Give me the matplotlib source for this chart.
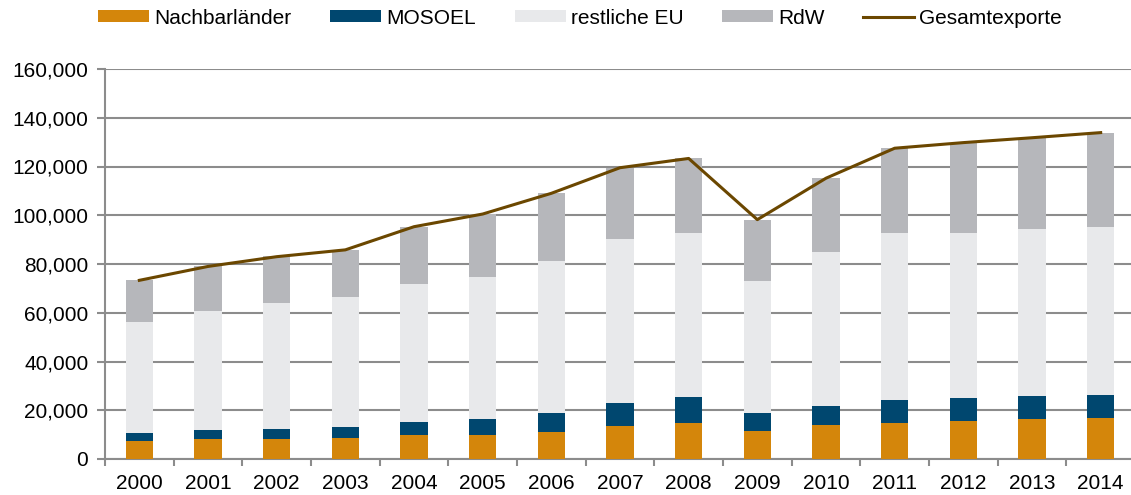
import numpy as np
import matplotlib
matplotlib.use("Agg")
import matplotlib.pyplot as plt
from matplotlib.ticker import FuncFormatter

plt.rcParams['font.family'] = ['Liberation Sans', 'DejaVu Sans']

jahre = ['2000', '2001', '2002', '2003', '2004', '2005', '2006', '2007',
         '2008', '2009', '2010', '2011', '2012', '2013', '2014']
nachbar = [7.5, 8.2, 8.3, 8.7, 9.7, 9.8, 10.9, 13.5, 14.8, 11.5, 13.9, 14.9, 15.6, 16.4, 17.0]
mosoel = [3.3, 3.6, 4.1, 4.6, 5.5, 6.6, 8.1, 9.6, 10.8, 7.5, 8.0, 9.2, 9.3, 9.4, 9.4]
rest_eu = [45.3, 48.8, 51.7, 53.2, 56.7, 58.3, 62.4, 67.0, 67.2, 54.2, 62.9, 68.8, 67.8, 68.6, 68.8]
rdw = [17.2, 18.4, 19.0, 19.3, 23.4, 25.8, 27.6, 29.4, 30.5, 24.9, 30.3, 34.7, 37.1, 37.4, 38.7]
gesamt = [73.3, 79.0, 83.0, 85.8, 95.3, 100.5, 109.0, 119.5, 123.3, 98.2, 115.2, 127.5, 129.8, 131.8, 133.9]

# Werte in 1.000
nachbar = np.array(nachbar) * 1000
mosoel = np.array(mosoel) * 1000
rest_eu = np.array(rest_eu) * 1000
rdw = np.array(rdw) * 1000
gesamt = np.array(gesamt) * 1000

c_nachbar = '#D4860B'
c_mosoel = '#00476F'
c_eu = '#E8E9EB'
c_rdw = '#B6B7BB'
c_line = '#6B4700'
c_grid = '#8C8C8C'

fig = plt.figure(figsize=(11.31, 4.95), dpi=100)
ax = fig.add_axes([105/1131, 36/495, 1030/1131, 390/495])

x = np.arange(len(jahre))
w = 0.40
b1 = ax.bar(x, nachbar, w, color=c_nachbar, label='Nachbarländer', zorder=3)
b2 = ax.bar(x, mosoel, w, bottom=nachbar, color=c_mosoel, label='MOSOEL', zorder=3)
b3 = ax.bar(x, rest_eu, w, bottom=nachbar + mosoel, color=c_eu, label='restliche EU', zorder=3)
b4 = ax.bar(x, rdw, w, bottom=nachbar + mosoel + rest_eu, color=c_rdw, label='RdW', zorder=3)
l1, = ax.plot(x, gesamt, color=c_line, lw=2.2, label='Gesamtexporte', zorder=4)

ax.set_xlim(-0.5, len(jahre) - 0.5)
ax.set_ylim(0, 160000)
ax.set_yticks(np.arange(0, 160001, 20000))
ax.yaxis.set_major_formatter(FuncFormatter(lambda v, p: '{:,.0f}'.format(v)))
ax.grid(axis='y', color=c_grid, lw=1.5, zorder=0)

ax.set_xticks(x)
ax.set_xticklabels(jahre)
ax.set_xticks(np.arange(-0.5, len(jahre) - 0.5, 1), minor=True)
ax.tick_params(axis='x', which='major', length=0, pad=11, labelsize=15)
ax.tick_params(axis='x', which='minor', length=5, width=1.5, color=c_grid)
ax.tick_params(axis='y', length=6, width=1.5, color=c_grid, labelsize=15, pad=6)

for s in ['top', 'right']:
    ax.spines[s].set_visible(False)
for s in ['left', 'bottom']:
    ax.spines[s].set_color(c_grid)
    ax.spines[s].set_linewidth(1.5)

fig.legend([b1, b2, b3, b4, l1],
           ['Nachbarländer', 'MOSOEL', 'restliche EU', 'RdW', 'Gesamtexporte'],
           loc='center', bbox_to_anchor=(0.513, 0.963), ncol=5, frameon=False,
           fontsize=15, handlelength=2.45, handleheight=0.5, handletextpad=0.25,
           columnspacing=1.85)

plt.savefig('out.png', dpi=100)
